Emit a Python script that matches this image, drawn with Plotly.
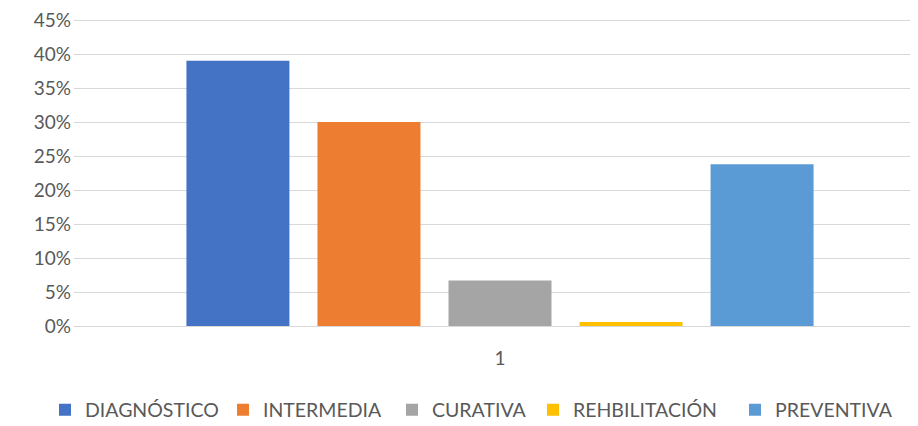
import plotly.graph_objects as go

categories = ["1"]
series_names = ["DIAGNÓSTICO", "INTERMEDIA", "CURATIVA", "REHBILITACIÓN", "PREVENTIVA"]
series_values = [0.39, 0.30, 0.067, 0.006, 0.238]
colors = ["#4472C4", "#ED7D31", "#A5A5A5", "#FFC000", "#5B9BD5"]

# legend text start positions (screen px) for each item
legend_text_x = [85, 263, 432, 573, 775]

FAM = "Lato, Liberation Sans, sans-serif"
tick_font = dict(family=FAM, size=19, color="#595959")
leg_font = dict(family=FAM, size=19.5, color="#595959")

fig = go.Figure()
legend_layout = {}
for i, (name, val, col) in enumerate(zip(series_names, series_values, colors)):
    key = "legend" if i == 0 else f"legend{i+1}"
    fig.add_trace(go.Bar(x=categories, y=[val], name=name, marker_color=col,
                         marker_line_width=0, legend=key))
    legend_layout[key] = dict(
        orientation="h", xref="container", yref="container",
        x=(legend_text_x[i] - 48) / 918, xanchor="left",
        y=1 - (410 - 8) / 426, yanchor="middle",
        font=leg_font, itemwidth=30, bgcolor="rgba(0,0,0,0)",
    )

fig.update_layout(
    width=918, height=426,
    margin=dict(l=66, r=0, t=8, b=108),
    paper_bgcolor="white", plot_bgcolor="white",
    font=tick_font,
    barmode="group", bargap=0.231, bargroupgap=0.214,
    showlegend=True,
    yaxis=dict(range=[0, 0.453], dtick=0.05, tickformat=".0%", showgrid=True,
               gridcolor="#D9D9D9", gridwidth=1, zeroline=True, zerolinecolor="#D9D9D9",
               zerolinewidth=1, ticks="", showline=False, ticklabelstandoff=2,
               ticklabeloverflow="allow", tickfont=tick_font),
    xaxis=dict(showgrid=False, showline=False, ticks="", ticklabelstandoff=19,
               tickfont=tick_font),
    **legend_layout,
)
fig.write_html("out.html")
